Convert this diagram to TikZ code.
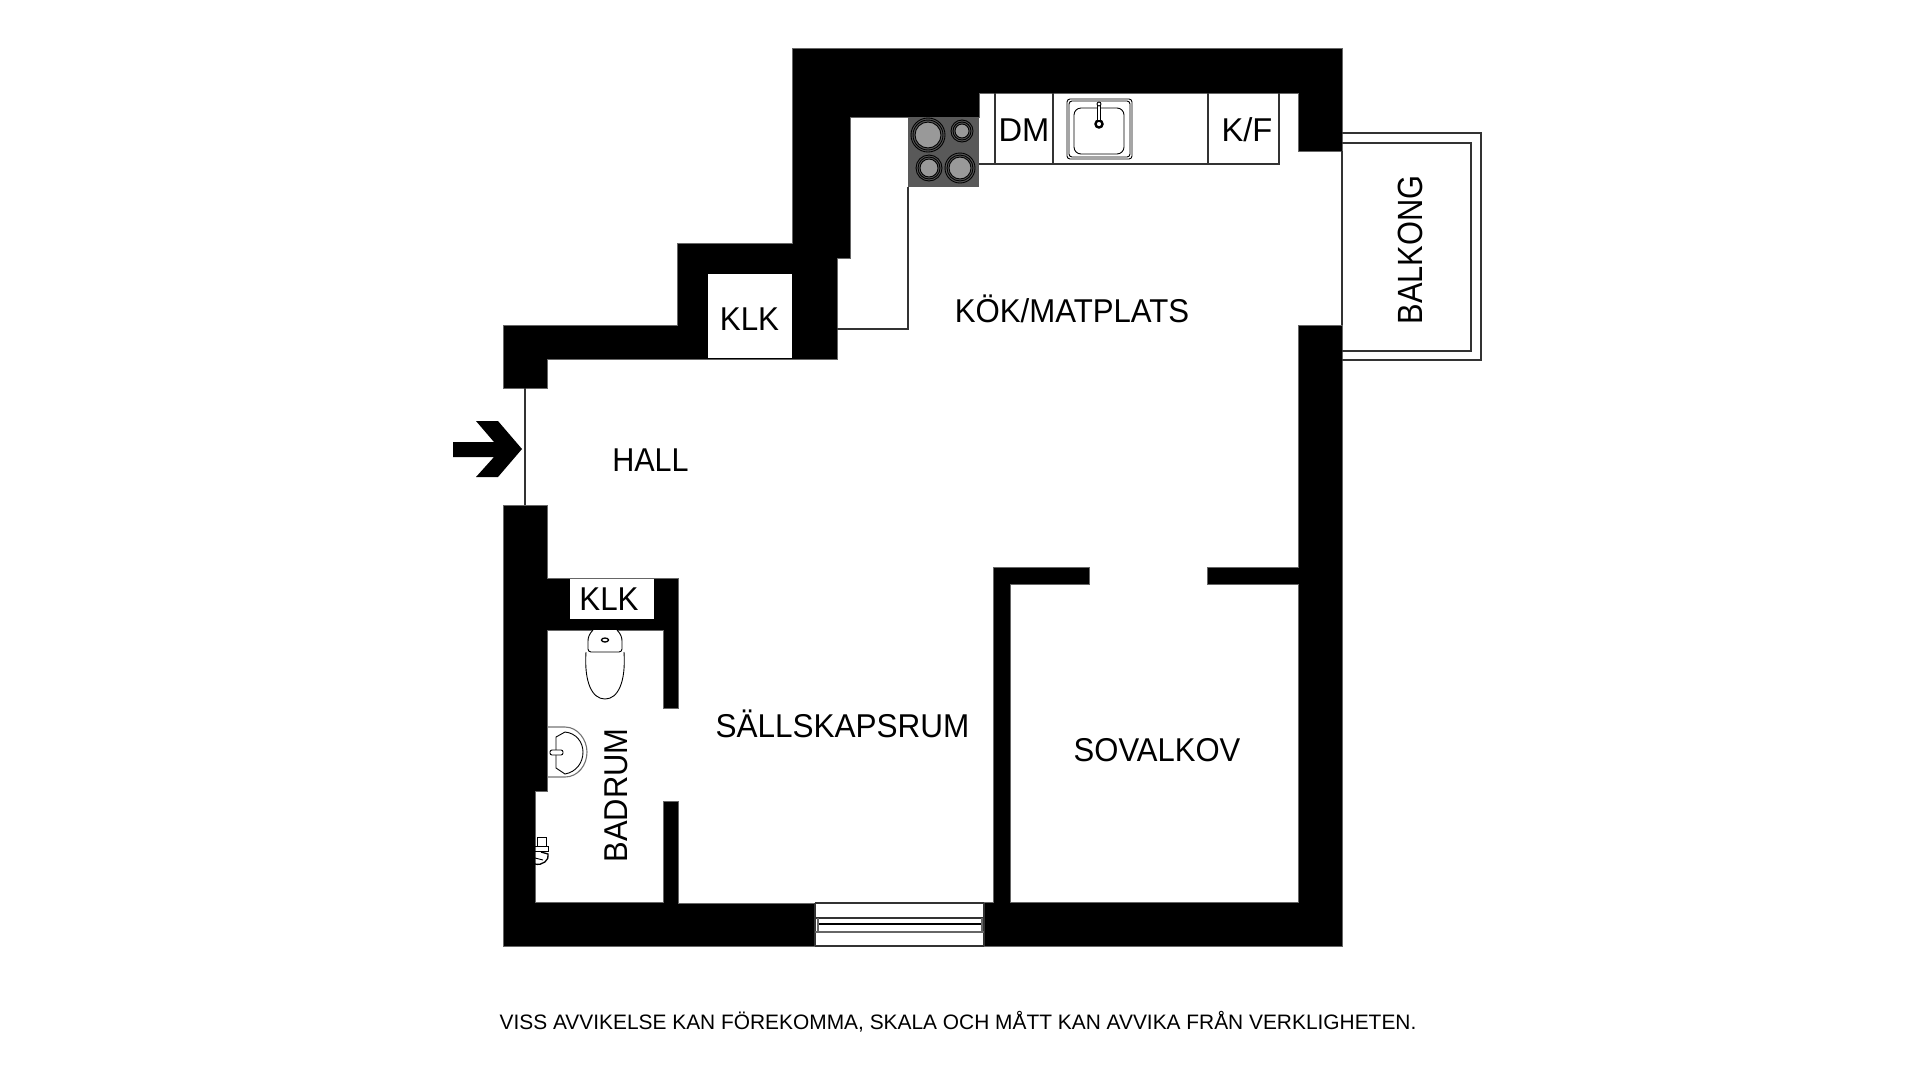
\documentclass[tikz,border=0pt]{standalone}
\usepackage{fontspec}
\usepackage{graphicx}
\setmainfont{Liberation Sans}
\usetikzlibrary{calc}

\newcommand{\narrowtext}[2][.94]{\scalebox{#1}[1]{#2}}

\begin{document}
\begin{tikzpicture}[x=1pt,y=-1pt,semithick]
  \tikzstyle{wall}=[fill=black,draw=black!60,line width=.4pt]
  \tikzstyle{every path}=[line join=miter]
  \tikzstyle{fitting}=[draw=black!80,line width=1.1pt]
  \tikzstyle{fine}=[draw=black,line width=.9pt]
  \tikzstyle{room}=[inner sep=0pt,text=black,font=\fontsize{33}{33}\selectfont]

  \useasboundingbox (0,0) rectangle (1920,1080);

  % walls
  \path[wall] (503,388) -- (503,325) -- (677,325) -- (677,243) -- (792,243) -- (792,48)
     -- (1342,48) -- (1342,151) -- (1298,151) -- (1298,93) -- (979,93) -- (979,117)
     -- (850,117) -- (850,258) -- (837,258) -- (837,359) -- (547,359) -- (547,388) -- cycle;
  \path[wall] (1298,325) -- (1342,325) -- (1342,946) -- (984,946) -- (984,902) -- (993,902)
     -- (993,567) -- (1089,567) -- (1089,584) -- (1010,584) -- (1010,902) -- (1298,902)
     -- (1298,584) -- (1207,584) -- (1207,567) -- (1298,567) -- cycle;
  \path[wall] (503,505) -- (547,505) -- (547,578) -- (678,578) -- (678,708) -- (663,708)
     -- (663,630) -- (547,630) -- (547,791) -- (535,791) -- (535,902) -- (663,902)
     -- (663,801) -- (678,801) -- (678,903) -- (815,903) -- (815,946) -- (503,946) -- cycle;
  \fill[white] (708,274) rectangle (792,358);
  \fill[white] (570,579) rectangle (654,619);

  % entrance
  \draw[fitting] (525,388) -- (525,505);
  \fill[black] (453,442) -- (494,442) -- (476,421) -- (498,421) -- (522,449) -- (498,477)
     -- (476,477) -- (494,457) -- (453,457) -- cycle;

  % balcony
  \draw[fitting] (1342,133) -- (1481,133) -- (1481,360) -- (1342,360);
  \draw[fitting,line width=1.5pt] (1342,143) -- (1471,143) -- (1471,351) -- (1342,351);
  \draw[fitting] (1342,151) -- (1342,325);

  % window
  \draw[fitting] (815,903) -- (984,903) (815,946) -- (984,946) (815,903) -- (815,946) (984,903) -- (984,946);
  \draw[fitting] (815,918) -- (984,918);
  \draw[fine,line width=1.3pt] (818,924) -- (982,924);
  \draw[fitting,draw=black!60] (815,932) -- (984,932) (818,918) -- (818,932) (982,918) -- (982,932);

  % kitchen counters
  \draw[fitting] (908,187) -- (908,329) -- (837,329);
  \draw[fitting] (979,164) -- (1279,164) -- (1279,93);
  \draw[fitting] (995,93) -- (995,164) (1053,93) -- (1053,164) (1208,93) -- (1208,164);

  % hob
  \fill[black!65] (908,117) rectangle (979,187);
  \foreach \cx/\cy/\cr in {928/135/17, 962/131/11, 929/168/13, 960/168/15} {
    \draw[fine] (\cx,\cy) circle (\cr);
    \draw[fine] (\cx,\cy) circle (\cr-2);
    \draw[fine,fill=black!40] (\cx,\cy) circle (\cr-4);
  }

  % sink
  \draw[fine,rounded corners=3pt] (1067,99) rectangle (1132,159);
  \draw[fine,rounded corners=3pt] (1069,101) rectangle (1130,157);
  \draw[fine,rounded corners=7pt] (1074,108) rectangle (1124,154);
  \draw[fine,line width=2.4pt] (1099,124) circle (3.5);
  \draw[fine,fill=white] (1097.5,105) rectangle (1100.5,120);
  \draw[fine,fill=white] (1099,104) circle (2);

  % toilet
  \draw[fine] (586,652) .. controls (584,682) and (592,699) .. (605,699)
     .. controls (618,699) and (626,682) .. (624,652);
  \draw[fine,fill=white,rounded corners=3pt] (593,630) .. controls (589,634) and (588,638) .. (588,644)
     -- (588,652) -- (622,652) -- (622,644) .. controls (622,638) and (621,634) .. (617,630);
  \draw[fine,line width=1.3pt] (605,640) ellipse (3.5 and 2);

  % basin
  \draw[fitting,draw=black!55] (547,727) -- (565,727) .. controls (578,727) and (587,740) .. (587,752)
     .. controls (587,765) and (578,777) .. (565,777) -- (547,777);
  \draw[fine] (556,737) -- (565,732) .. controls (576,733) and (583,742) .. (583,752)
     .. controls (583,763) and (576,772) .. (565,774) -- (556,768) -- cycle;
  \draw[fine,fill=white,rounded corners=2pt] (550,750) rectangle (563,755);

  % shower tap
  \draw[fine] (537,837) rectangle (546,846);
  \draw[fine] (535,846) -- (548,846) -- (548,851) -- (535,851);
  \draw[fine,line width=1.3pt] (535,864) .. controls (542,866) and (550,860) .. (548,854) -- (541,852);
  \draw[fine] (535,858) -- (543,860);

  % labels
  \node[room] (hall)     at (650.5,460)  {\narrowtext[.926]{HALL}};
  \node[room] (kitchen)  at (1072,309) {\narrowtext[.945]{KÖK/MATPLATS}};
  \node[room] (closetA)  at (749.5,319) {\narrowtext[.95]{KLK}};
  \node[room] (closetB)  at (609,599)  {\narrowtext[.95]{KLK}};
  \node[room] (dm)       at (1024,130) {\narrowtext[.99]{DM}};
  \node[room] (kf)       at (1247,130) {\narrowtext[.99]{K/F}};
  \node[room] (living)   at (842.5,724)  {\narrowtext[.955]{SÄLLSKAPSRUM}};
  \node[room] (bedroom)  at (1157,750) {\narrowtext[.94]{SOVALKOV}};
  \node[room,rotate=90] (bath)    at (616,795.5) {\narrowtext[.938]{BADRUM}};
  \node[room,rotate=90,font=\fontsize{35}{35}\selectfont] (balcony) at (1410,250)  {\narrowtext[.88]{BALKONG}};
  \node[inner sep=0pt,font=\fontsize{20.9}{21}\selectfont] (note) at (958,1022)
     {VISS AVVIKELSE KAN FÖREKOMMA, SKALA OCH MÅTT KAN AVVIKA FRÅN VERKLIGHETEN.};
\end{tikzpicture}
\end{document}
